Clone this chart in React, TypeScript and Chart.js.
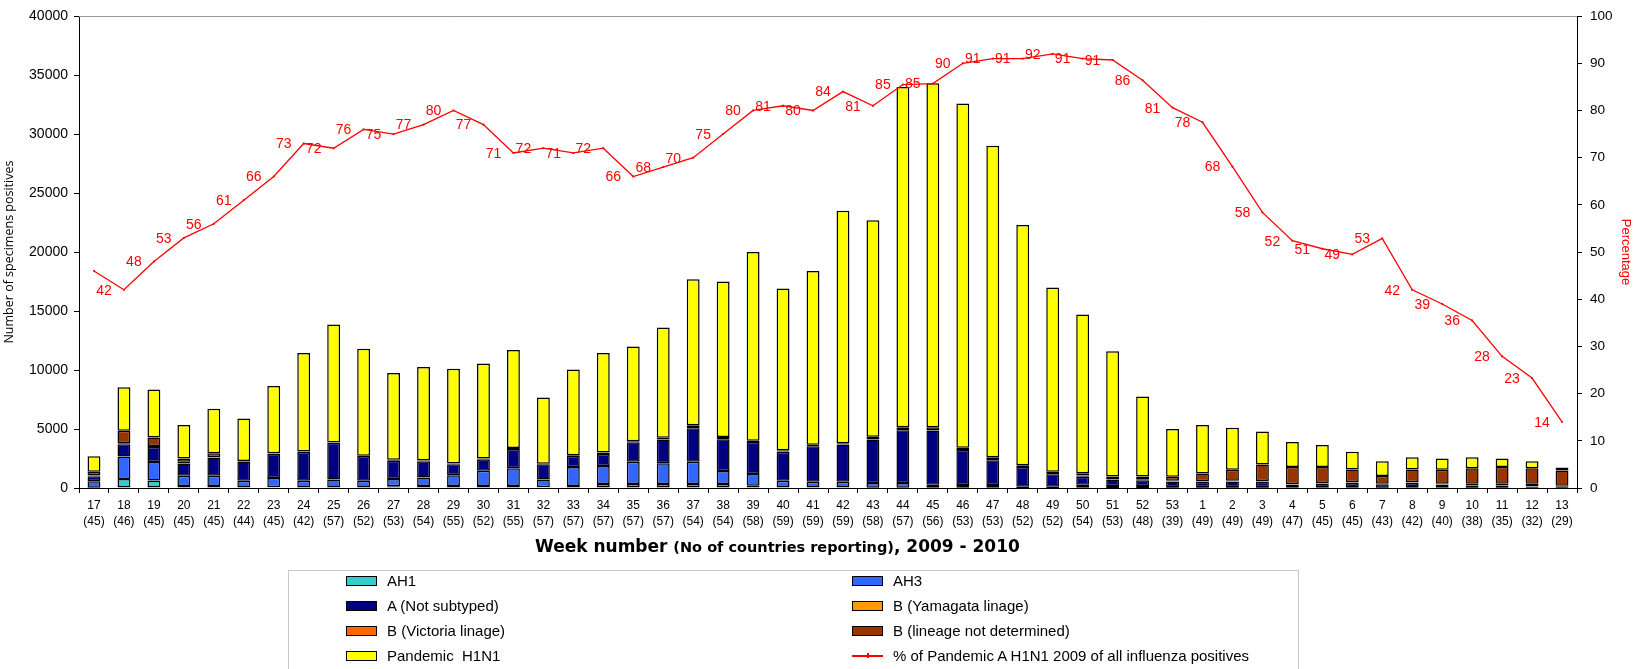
import React, { useEffect, useRef } from "react";
import { Chart, registerables } from "chart.js";

Chart.register(...registerables);

const weeks = [
  "17", "18", "19", "20", "21", "22", "23", "24", "25", "26", "27", "28", "29", "30", "31", "32",
  "33", "34", "35", "36", "37", "38", "39", "40", "41", "42", "43", "44", "45", "46", "47", "48", "49", "50",
  "51", "52", "53", "1", "2", "3", "4", "5", "6", "7", "8", "9", "10", "11", "12", "13",
];
const countries = [
  "(45)", "(46)", "(45)", "(45)", "(45)", "(44)", "(45)", "(42)", "(57)", "(52)", "(53)", "(54)", "(55)", "(52)", "(55)", "(57)",
  "(57)", "(57)", "(57)", "(57)", "(54)", "(54)", "(58)", "(59)", "(59)", "(59)", "(58)", "(57)", "(56)", "(53)", "(53)", "(52)", "(52)", "(54)",
  "(53)", "(48)", "(39)", "(49)", "(49)", "(49)", "(47)", "(45)", "(45)", "(43)", "(42)", "(40)", "(38)", "(35)", "(32)", "(29)",
];

const ah1 = [
  20, 760, 640, 170, 170, 50, 60, 50, 50, 50, 140, 170, 170, 170, 170, 60,
  170, 330, 330, 330, 330, 330, 200, 50, 40, 40, 30, 30, 20, 20, 20, 10, 10, 20,
  10, 10, 10, 10, 10, 10, 10, 10, 10, 10, 10, 10, 10, 10, 10, 5,
];
const ah3 = [
  560, 1900, 1570, 870, 870, 570, 780, 570, 680, 560, 620, 730, 920, 1290, 1510, 670,
  1620, 1540, 1900, 1770, 1900, 1120, 980, 560, 490, 490, 390, 390, 260, 230, 230, 100, 100, 260,
  150, 150, 60, 60, 50, 50, 30, 30, 30, 20, 30, 30, 50, 50, 20, 10,
];
const aNotSubtyped = [
  420, 1040, 1260, 1040, 1540, 1620, 2070, 2430, 3100, 2100, 1560, 1370, 930, 980, 1620, 1290,
  930, 1010, 1650, 2010, 2830, 2690, 2720, 2440, 3000, 3160, 3700, 4480, 4600, 2970, 2100, 1680, 1060, 670,
  570, 500, 490, 460, 500, 470, 240, 320, 380, 280, 380, 240, 110, 110, 80, 60,
];
const bYamagata = [
  0, 0, 0, 0, 0, 0, 0, 0, 0, 0, 0, 0, 0, 0, 0, 0,
  0, 0, 0, 0, 0, 0, 0, 0, 0, 0, 0, 0, 0, 0, 0, 0, 0, 0,
  0, 0, 10, 10, 20, 20, 20, 20, 20, 20, 20, 30, 40, 40, 40, 30,
];
const bVictoria = [
  60, 100, 80, 150, 30, 0, 0, 0, 0, 0, 0, 0, 0, 0, 0, 0,
  0, 0, 0, 0, 0, 0, 0, 50, 0, 0, 0, 0, 0, 0, 0, 0, 0, 100,
  0, 80, 40, 40, 40, 50, 40, 40, 40, 40, 40, 50, 160, 160, 210, 80,
];
const bNotDetermined = [
  310, 1060, 730, 270, 330, 40, 30, 50, 30, 20, 80, 60, 50, 60, 80, 30,
  60, 120, 80, 150, 250, 180, 100, 100, 130, 110, 220, 250, 270, 200, 250, 140, 200, 210,
  250, 240, 340, 650, 920, 1390, 1450, 1370, 1090, 640, 1090, 1180, 1310, 1420, 1320, 1300,
];
const pandemic = [
  1330, 3690, 4070, 2850, 3780, 3620, 5710, 8350, 9990, 9070, 7350, 7920, 8030, 8050, 8320, 5620,
  7270, 8450, 8040, 9340, 12390, 13180, 16000, 13700, 14740, 19700, 18360, 28850, 29150, 29180, 26400, 20370, 15630, 13440,
  10620, 6780, 4060, 4120, 3560, 2800, 2100, 1850, 1510, 1260, 1030, 950, 920, 700, 590, 250,
];
const pctPandemic = [
  46, 42, 48, 53, 56, 61, 66, 73, 72, 76, 75, 77, 80, 77, 71, 72,
  71, 72, 66, 68, 70, 75, 80, 81, 80, 84, 81, 85.5, 85.7, 90, 91, 91, 92, 91,
  90.7, 86.4, 80.6, 77.5, 68.1, 58.4, 52.4, 50.7, 49.5, 52.9, 42, 39, 35.5, 27.9, 23.3, 14,
];
const pctLabels = [
  "", "42", "48", "53", "56", "61", "66", "73", "72", "76", "75", "77", "80", "77", "71", "72",
  "71", "72", "66", "68", "70", "75", "80", "81", "80", "84", "81", "85", "85", "90", "91", "91", "92", "91",
  "91", "86", "81", "78", "68", "58", "52", "51", "49", "53", "42", "39", "36", "28", "23", "14",
];

const leftTicks = { min: 0, max: 40000, step: 5000 };
const rightTicks = { min: 0, max: 100, step: 10 };

const FONT = "'Liberation Sans', Arial, sans-serif";

const barSeries = [
  { label: "AH1", data: ah1, color: "#33CCCC" },
  { label: "AH3", data: ah3, color: "#3366FF" },
  { label: "A (Not subtyped)", data: aNotSubtyped, color: "#000080" },
  { label: "B (Yamagata linage)", data: bYamagata, color: "#FF9900" },
  { label: "B (Victoria linage)", data: bVictoria, color: "#FF6600" },
  { label: "B (lineage not determined)", data: bNotDetermined, color: "#993300" },
  { label: "Pandemic  H1N1", data: pandemic, color: "#FFFF00" },
];
const lineLabel = "% of Pandemic A H1N1 2009 of all influenza positives";

const legendLeft = [barSeries[0], barSeries[2], barSeries[4], barSeries[6]];
const legendRight = [barSeries[1], barSeries[3], barSeries[5]];

export default function App() {
  const ref = useRef<HTMLCanvasElement>(null);

  useEffect(() => {
    document.body.style.margin = "0";
    const canvas = ref.current;
    if (!canvas) return;

    const labelPlugin = {
      id: "pctLabels",
      afterDatasetsDraw(chart: any) {
        const c = chart.ctx;
        const a = chart.chartArea;
        c.save();
        c.strokeStyle = "#999999";
        c.lineWidth = 1;
        c.beginPath();
        c.moveTo(a.left, Math.round(a.top) + 0.5);
        c.lineTo(a.right, Math.round(a.top) + 0.5);
        c.stroke();
        const meta = chart.getDatasetMeta(0);
        c.font = `14px ${FONT}`;
        c.fillStyle = "#FF0000";
        c.textAlign = "center";
        c.textBaseline = "middle";
        meta.data.forEach((pt: any, i: number) => {
          const t = pctLabels[i];
          if (t) c.fillText(t, pt.x - 20, pt.y + 1);
        });
        c.restore();
      },
    };

    const chart = new Chart(canvas, {
      type: "bar",
      data: {
        labels: weeks.map((w, i) => [w, countries[i]]),
        datasets: [
          {
            type: "line",
            label: lineLabel,
            data: pctPandemic,
            yAxisID: "y2",
            borderColor: "#FF0000",
            backgroundColor: "#FF0000",
            borderWidth: 1.3,
            pointRadius: 1.3,
            pointBorderWidth: 0,
            pointStyle: "rect",
            tension: 0,
            order: 0,
          } as any,
          ...barSeries.map((s) => ({
            type: "bar",
            label: s.label,
            data: s.data,
            yAxisID: "y",
            backgroundColor: s.color,
            borderColor: "#000000",
            borderWidth: 1.5,
            borderSkipped: false,
            barPercentage: 0.43,
            categoryPercentage: 1,
            stack: "s",
            order: 1,
          })),
        ],
      },
      options: {
        responsive: false,
        animation: false,
        devicePixelRatio: 1,
        layout: { padding: { top: 11, bottom: 99, left: 0, right: 0 } },
        plugins: {
          legend: { display: false },
          tooltip: { enabled: false },
          title: { display: false },
        },
        scales: {
          x: {
            type: "category",
            stacked: true,
            offset: true,
            grid: {
              display: true,
              drawOnChartArea: false,
              drawTicks: true,
              tickLength: 5,
              color: "#000000",
              offset: true,
            },
            border: { display: true, color: "#000000", width: 1 },
            ticks: {
              color: "#000000",
              font: { family: FONT, size: 12, lineHeight: 1.34 },
              padding: 5,
              maxRotation: 0,
              autoSkip: false,
            },
            afterFit: (s: any) => {
              s.height = 82;
            },
          },
          y: {
            position: "left",
            stacked: true,
            min: leftTicks.min,
            max: leftTicks.max,
            ticks: {
              stepSize: leftTicks.step,
              color: "#000000",
              font: { family: FONT, size: 14 },
              padding: 6,
              callback: (v: any) => String(v),
            },
            grid: { drawOnChartArea: false, tickLength: 5, color: "#000000" },
            border: { display: true, color: "#000000", width: 1 },
            title: {
              display: true,
              text: "Number of specimens positives",
              color: "#000000",
              font: { family: "'Open Sans', 'DejaVu Sans', sans-serif", size: 12.5 },
              padding: { top: 2, bottom: 0 },
            },
            afterFit: (s: any) => {
              s.width = 79;
            },
          },
          y2: {
            position: "right",
            min: rightTicks.min,
            max: rightTicks.max,
            ticks: {
              stepSize: rightTicks.step,
              color: "#000000",
              font: { family: FONT, size: 13.5 },
              padding: 8,
              callback: (v: any) => String(v),
            },
            grid: { drawOnChartArea: false, tickLength: 5, color: "#000000" },
            border: { display: true, color: "#000000", width: 1 },
            title: {
              display: true,
              text: "Percentage",
              color: "#FF0000",
              font: { family: FONT, size: 13 },
              padding: { top: 0, bottom: 0 },
            },
            afterFit: (s: any) => {
              s.width = 56;
            },
          },
        },
      } as any,
      plugins: [labelPlugin],
    });

    return () => chart.destroy();
  }, []);

  const legendFont = "'Liberation Sans Narrow', 'Arial Narrow', 'Liberation Sans', Arial, sans-serif";
  const rowTops = [581, 606, 631, 656];

  const swatch = (left: number, top: number, color: string) => (
    <div
      style={{
        position: "absolute",
        left,
        top: top - 5,
        width: 31,
        height: 10,
        boxSizing: "border-box",
        border: "1px solid #000",
        background: color,
      }}
    />
  );
  const text = (left: number, top: number, t: string) => (
    <div
      style={{
        position: "absolute",
        left,
        top: top - 10,
        height: 20,
        lineHeight: "20px",
        fontFamily: legendFont,
        fontSize: 15,
        color: "#000",
        whiteSpace: "pre",
      }}
    >
      {t}
    </div>
  );

  return (
    <div style={{ position: "relative", width: 1633, height: 669, overflow: "hidden", background: "#fff" }}>
      <canvas ref={ref} width={1633} height={669} style={{ position: "absolute", left: 0, top: 0, width: 1633, height: 669 }} />
      <div
        style={{
          position: "absolute",
          left: 535,
          top: 534,
          height: 24,
          lineHeight: "24px",
          whiteSpace: "nowrap",
          fontFamily: "'DejaVu Sans', sans-serif",
          fontWeight: "bold",
          color: "#000",
        }}
      >
        <span style={{ fontSize: 17 }}>Week number </span>
        <span style={{ fontSize: 14.5 }}>(No of countries reporting)</span>
        <span style={{ fontSize: 17 }}>, 2009 - 2010</span>
      </div>
      <div
        style={{
          position: "absolute",
          left: 288,
          top: 570,
          width: 1011,
          height: 120,
          boxSizing: "border-box",
          border: "1px solid #c8c8c8",
        }}
      />
      {legendLeft.map((s, i) => (
        <React.Fragment key={"l" + i}>
          {swatch(346, rowTops[i], s.color)}
          {text(387, rowTops[i], s.label)}
        </React.Fragment>
      ))}
      {legendRight.map((s, i) => (
        <React.Fragment key={"r" + i}>
          {swatch(852, rowTops[i], s.color)}
          {text(893, rowTops[i], s.label)}
        </React.Fragment>
      ))}
      <div style={{ position: "absolute", left: 852, top: rowTops[3] - 1, width: 31, height: 1.5, background: "#FF0000" }} />
      <div style={{ position: "absolute", left: 867, top: rowTops[3] - 3, width: 1.5, height: 5, background: "#FF0000" }} />
      {text(893, rowTops[3], lineLabel)}
    </div>
  );
}
